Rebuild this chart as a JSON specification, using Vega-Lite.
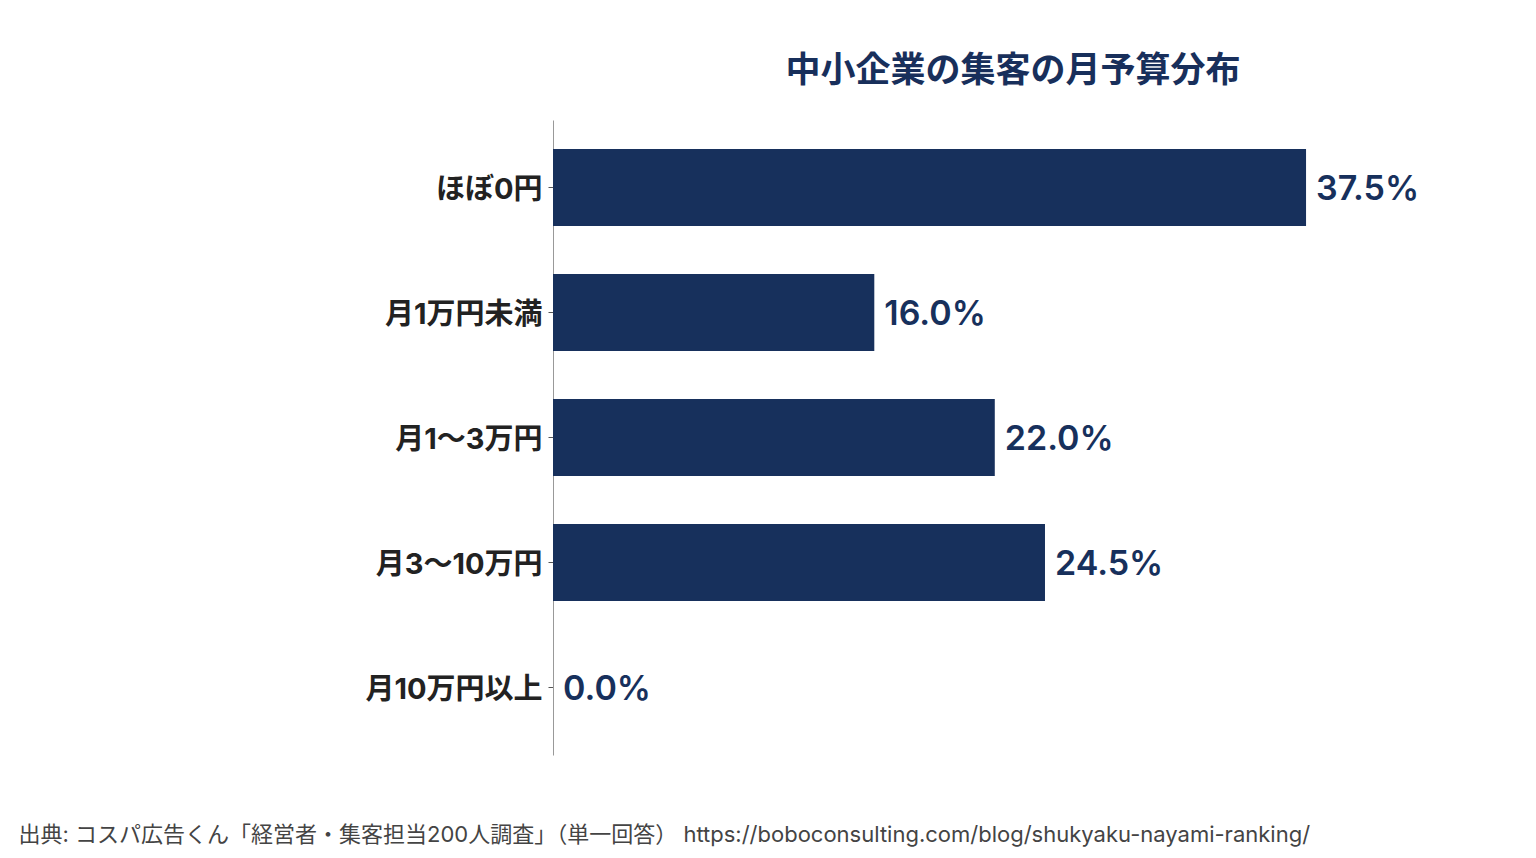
{
  "$schema": "https://vega.github.io/schema/vega-lite/v6.json",
  "autosize": {"type": "none"},
  "padding": {"left": 553, "top": 120, "right": 117, "bottom": 103},
  "width": 866,
  "height": 635,
  "background": "white",
  "config": {"view": {"stroke": null}, "font": "Inter, Noto Sans CJK JP"},
  "title": {
    "text": "中小企業の集客の月予算分布",
    "fontSize": 35,
    "fontWeight": "bold",
    "color": "#182f5b",
    "anchor": "middle",
    "dx": 27,
    "offset": 31,
    "font": "Noto Sans CJK JP"
  },
  "data": {
    "values": [
      {"category": "ほぼ0円", "value": 37.5, "label": "37.5%"},
      {"category": "月1万円未満", "value": 16.0, "label": "16.0%"},
      {"category": "月1〜3万円", "value": 22.0, "label": "22.0%"},
      {"category": "月3〜10万円", "value": 24.5, "label": "24.5%"},
      {"category": "月10万円以上", "value": 0.0, "label": "0.0%"}
    ]
  },
  "encoding": {
    "y": {
      "field": "category",
      "type": "nominal",
      "sort": null,
      "scale": {"paddingInner": 0.384, "paddingOuter": 0.232},
      "axis": {
        "title": null,
        "domainColor": "#999999",
        "domainWidth": 1,
        "tickColor": "#555555",
        "tickSize": 5,
        "labelPadding": 6,
        "labelFontSize": 29,
        "labelFontWeight": "bold",
        "labelColor": "#222222",
        "labelFont": "Inter, Noto Sans CJK JP",
        "labelOffset": 2
      }
    },
    "x": {
      "field": "value",
      "type": "quantitative",
      "scale": {"domain": [0, 43.125], "nice": false},
      "axis": {
        "domain": false,
        "ticks": false,
        "labels": false,
        "grid": false,
        "title": "出典: コスパ広告くん「経営者・集客担当200人調査」（単一回答） https://boboconsulting.com/blog/shukyaku-nayami-ranking/",
        "titleFontSize": 22,
        "titleFontWeight": "normal",
        "titleColor": "#444444",
        "titleFont": "Inter, Noto Sans CJK JP",
        "titleAlign": "left",
        "titleAnchor": null,
        "titleX": -535,
        "titleY": 79,
        "titleBaseline": "middle"
      }
    }
  },
  "layer": [
    {"mark": {"type": "bar", "color": "#17305c"}},
    {
      "mark": {"type": "text", "align": "left", "baseline": "middle", "dx": 10, "dy": 2, "fontSize": 34, "fontWeight": 600, "color": "#17305c", "font": "Inter, Noto Sans CJK JP"},
      "encoding": {"text": {"field": "label"}}
    }
  ]
}
